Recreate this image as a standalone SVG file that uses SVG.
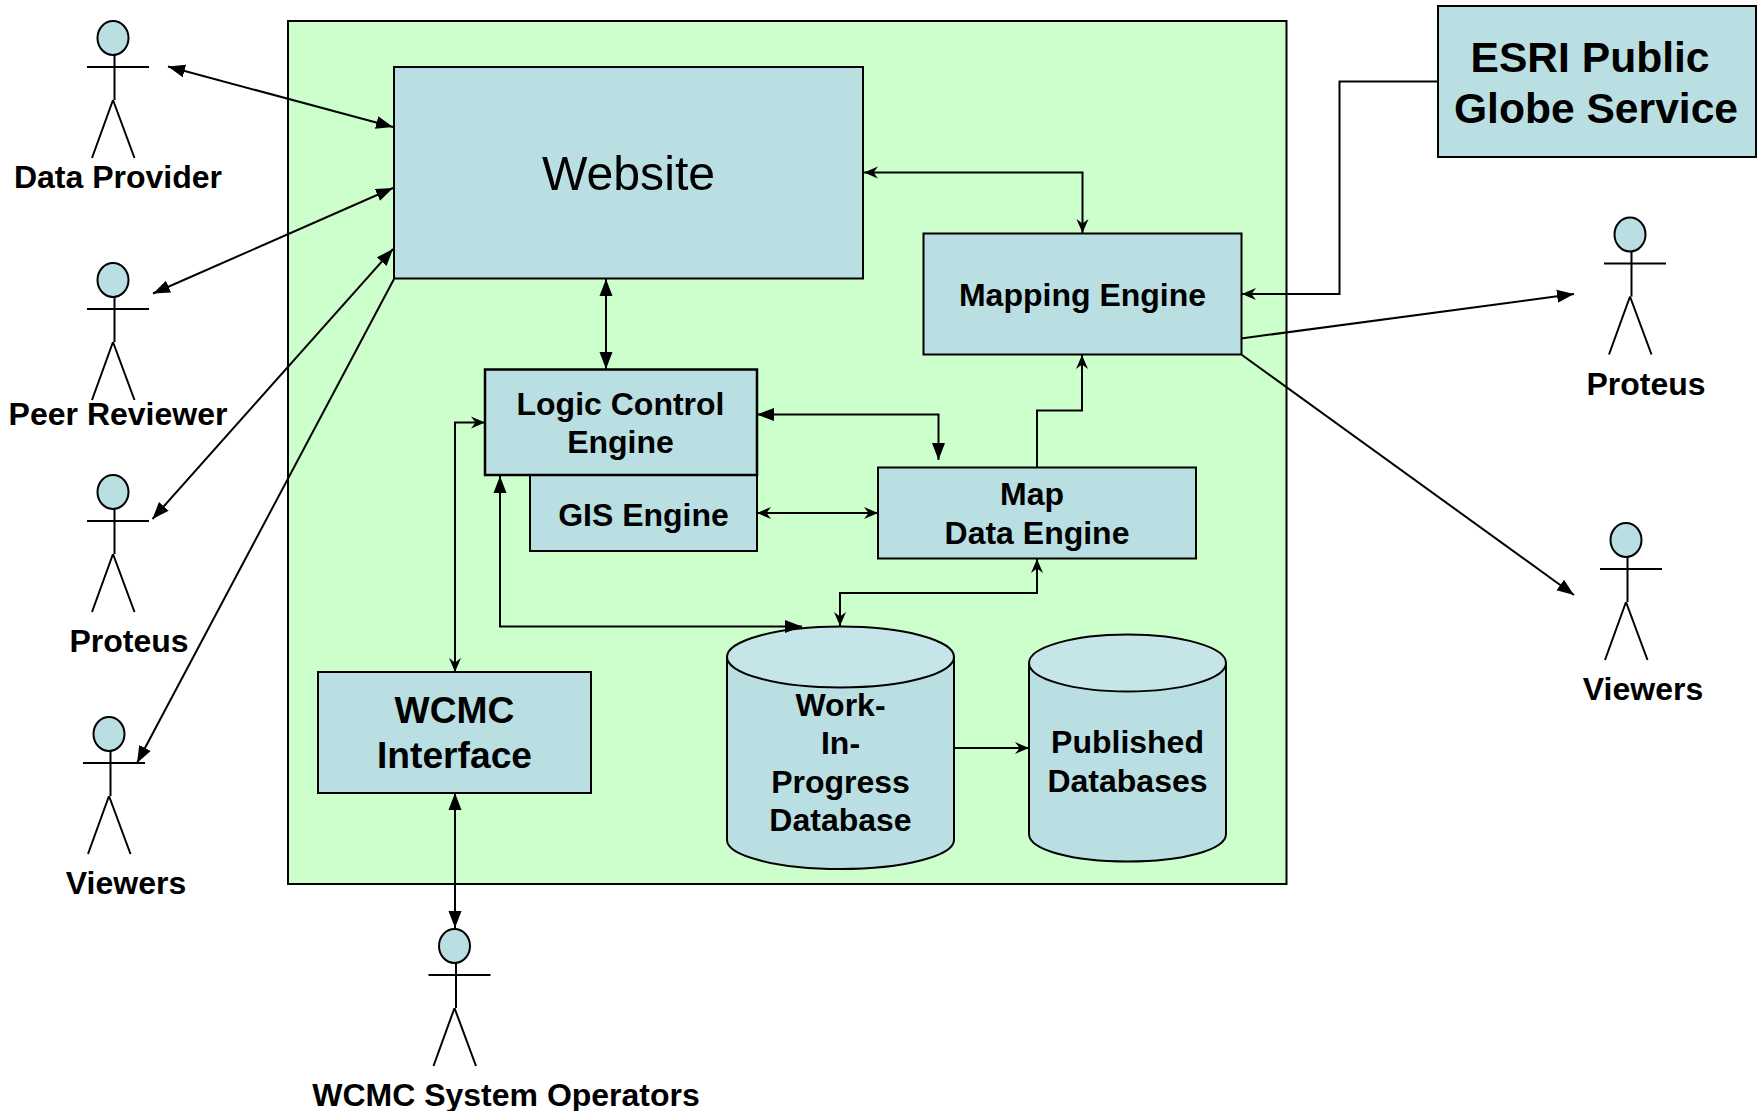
<svg xmlns="http://www.w3.org/2000/svg" width="1760" height="1111" viewBox="0 0 1760 1111">
<style>
text{font-family:"Liberation Sans",Arial,sans-serif;font-weight:bold;font-size:32px;text-anchor:middle;fill:#000}
.b{fill:#b9dfe2;stroke:#000;stroke-width:2}
.t{fill:#c6e5e8;stroke:#000;stroke-width:2}
.s{fill:none;stroke:#000;stroke-width:2}
.c{fill:none;stroke:#000;stroke-width:2}
.fs{marker-start:url(#f);marker-end:url(#f)}
.fe{marker-end:url(#f)}
.os{marker-start:url(#o);marker-end:url(#o)}
.oe{marker-end:url(#o)}
.w{font-size:37.200px}
.e{font-size:42.600px}
</style>
<defs>
<marker id="f" markerUnits="userSpaceOnUse" markerWidth="18" markerHeight="14" refX="17" refY="7" orient="auto-start-reverse"><path d="M0,0.5 L17,7 L0,13.5 Z" fill="#000"/></marker>
<marker id="o" markerUnits="userSpaceOnUse" markerWidth="15" markerHeight="14" refX="14" refY="7" orient="auto-start-reverse"><path d="M0,1 L14,7 L0,13 L4.500,7 Z" fill="#000"/></marker>
<g id="actor"><ellipse class="b" cx="0" cy="0" rx="15.500" ry="17"/><path class="s" d="M1.500,17 V62 M-26,29 H36 M0,62 L-21,120 M0,62 L21.500,120"/></g>
</defs>
<rect width="1760" height="1111" fill="#fff"/>
<g id="system"><rect x="288" y="21" width="998.500" height="863" fill="#ccffcc" stroke="#000" stroke-width="2"/></g>
<g id="website"><rect class="b" x="394" y="67" width="469" height="211.500"/><text x="628.500" y="190" style="font-size:48.200px;font-weight:normal">Website</text></g>
<g id="mapping-engine"><rect class="b" x="923.500" y="233.500" width="318" height="121"/><text x="1082.500" y="306">Mapping Engine</text></g>
<g id="gis-engine"><rect class="b" x="530" y="475" width="227" height="76"/><text x="643.500" y="526">GIS Engine</text></g>
<g id="logic-control-engine"><rect class="b" style="stroke-width:2.500" x="485" y="369.500" width="272" height="105.500"/><text x="620.500" y="415">Logic Control</text><text x="620.500" y="453">Engine</text></g>
<g id="map-data-engine"><rect class="b" x="878" y="467.500" width="318" height="91"/><text x="1032" y="505">Map</text><text x="1037" y="544">Data Engine</text></g>
<g id="wcmc-interface"><rect class="b" x="318" y="672" width="273" height="121"/><text class="w" x="454.500" y="723">WCMC</text><text class="w" x="454.500" y="768">Interface</text></g>
<g id="work-in-progress-database"><path class="b" d="M727,657 V840 C727,856 778,869 840.500,869 S954,856 954,840 V657"/><ellipse class="t" cx="840.500" cy="657" rx="113.500" ry="30.500"/><text x="840.500" y="716">Work-</text><text x="840.500" y="754">In-</text><text x="840.500" y="793">Progress</text><text x="840.500" y="831">Database</text></g>
<g id="published-databases"><path class="b" d="M1029,663 V834 C1029,850 1073,861.500 1127.500,861.500 S1226,850 1226,834 V663"/><ellipse class="t" cx="1127.500" cy="663" rx="98.500" ry="28.500"/><text x="1127.500" y="753">Published</text><text x="1127.500" y="792">Databases</text></g>
<g id="esri-public-globe-service"><rect class="b" x="1438" y="6" width="318" height="151"/><text class="e" x="1590" y="72">ESRI Public</text><text class="e" x="1596" y="123">Globe Service</text></g>
<g id="actor-data-provider"><use href="#actor" x="113" y="38"/><text x="118" y="188">Data Provider</text></g>
<g id="actor-peer-reviewer"><use href="#actor" x="113" y="280"/><text x="118" y="425">Peer Reviewer</text></g>
<g id="actor-proteus-left"><use href="#actor" x="113" y="492"/><text x="129" y="652">Proteus</text></g>
<g id="actor-viewers-left"><use href="#actor" x="109" y="734"/><text x="126" y="894">Viewers</text></g>
<g id="actor-wcmc-operators"><use href="#actor" x="454.500" y="946"/><text x="506" y="1106">WCMC System Operators</text></g>
<g id="actor-proteus-right"><use href="#actor" x="1630" y="234.500"/><text x="1646" y="395">Proteus</text></g>
<g id="actor-viewers-right"><use href="#actor" x="1626" y="540"/><text x="1643" y="700">Viewers</text></g>
<g id="connectors">
<path class="c fs" d="M168,66.500 L393,127"/>
<path class="c fs" d="M153,293.500 L393,188"/>
<path class="c fs" d="M152.500,519 L393,249"/>
<path class="c fe" d="M394,279 L137,763"/>
<path class="c os" d="M864,172.500 H1082.500 V233"/>
<path class="c fs" d="M606,279 V369"/>
<path class="c fs" d="M757,414.500 H938.500 V460"/>
<path class="c os" d="M757,513 H878"/>
<path class="c oe" d="M1037,467 V410.500 H1082 V355"/>
<path class="c os" d="M1037,559 V593 H840 V626"/>
<path class="c fs" d="M500,476 V626.500 H802"/>
<path class="c os" d="M485,422.500 H455 V672"/>
<path class="c fs" d="M455,793 V928"/>
<path class="c oe" d="M954,748 H1029"/>
<path class="c oe" d="M1438,81.500 H1339.500 V294 H1242"/>
<path class="c fe" d="M1241,338.500 L1574,294"/>
<path class="c fe" d="M1242,355 L1574,595"/>
</g>
</svg>
